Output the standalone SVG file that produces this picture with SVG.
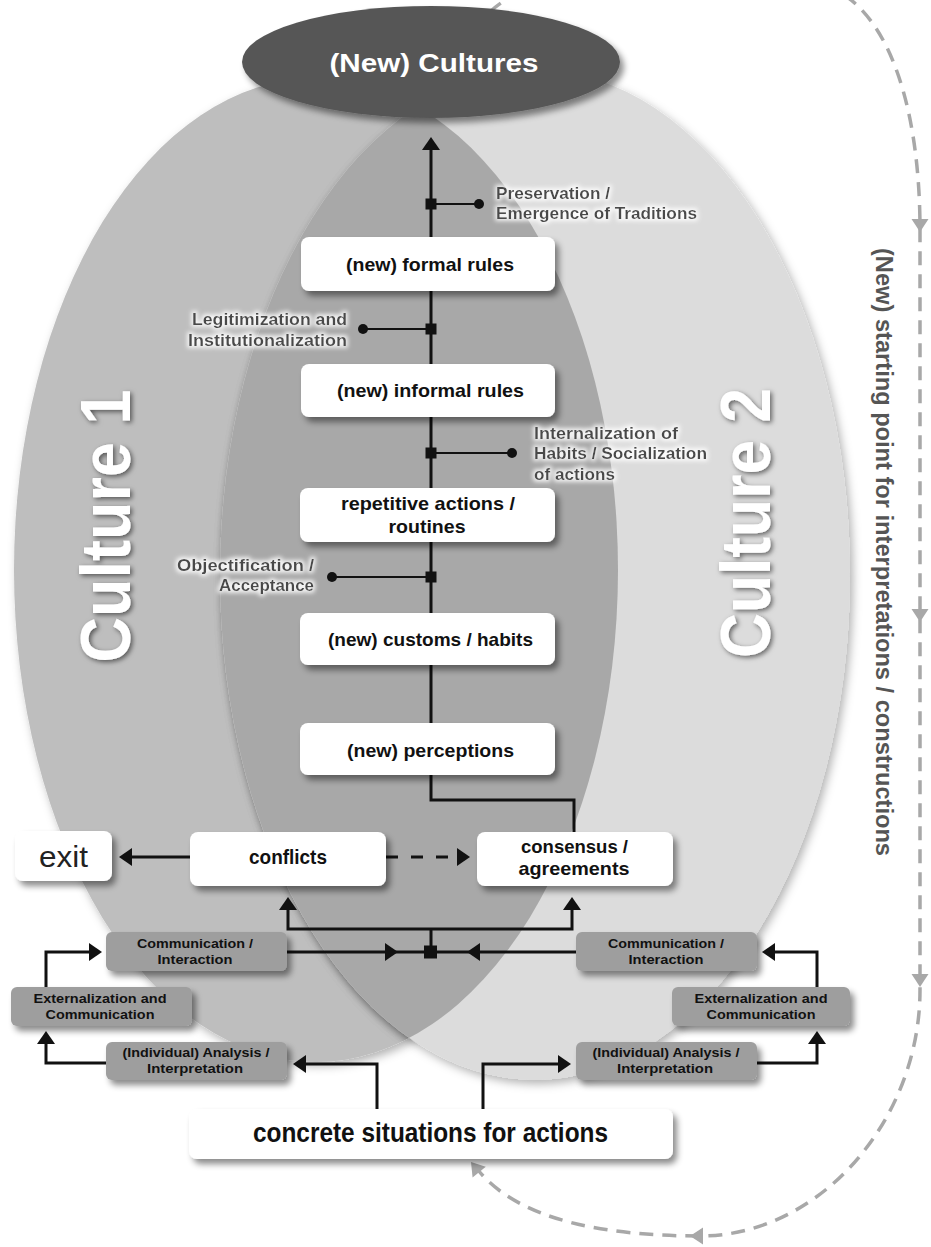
<svg xmlns="http://www.w3.org/2000/svg" width="931" height="1247" viewBox="0 0 931 1247">
<defs>
<style>
text{font-family:"Liberation Sans",Arial,sans-serif;}
.box{fill:#ffffff;}
.gbox{fill:#9e9e9e;}
.bl{font-size:19px;font-weight:700;fill:#111;text-anchor:middle;}
.bc{font-size:21px;font-weight:700;fill:#111;text-anchor:middle;}
.bc2{font-size:19px;font-weight:700;fill:#111;text-anchor:middle;}
.sl{font-size:13.5px;font-weight:700;fill:#111;text-anchor:middle;}
.an{font-size:17px;font-weight:700;fill:#4a4a4a;}
.ln{fill:none;stroke:#111;stroke-width:3;}
.thin{fill:none;stroke:#111;stroke-width:2.2;}
.dl{fill:none;stroke:#a8a8a8;stroke-width:3.5;stroke-dasharray:14 9;}
.cul{font-size:70px;font-weight:700;fill:#ffffff;text-anchor:middle;}
.blk{fill:#111;}
.gr{fill:#a8a8a8;}
</style>
<filter id="sh" x="-20%" y="-30%" width="150%" height="190%">
<feDropShadow dx="4" dy="5" stdDeviation="3" flood-color="#000" flood-opacity="0.45"/>
</filter>
<filter id="esh" x="-10%" y="-10%" width="125%" height="125%">
<feDropShadow dx="3" dy="4" stdDeviation="5" flood-color="#000" flood-opacity="0.3"/>
</filter>
<filter id="ts" x="-20%" y="-20%" width="140%" height="140%">
<feDropShadow dx="2" dy="2" stdDeviation="2.5" flood-color="#000" flood-opacity="0.55"/>
</filter>
<filter id="gl" x="-10%" y="-40%" width="120%" height="180%">
<feMorphology in="SourceAlpha" operator="dilate" radius="1.5" result="d"/>
<feGaussianBlur in="d" stdDeviation="2" result="b"/>
<feFlood flood-color="#ffffff" flood-opacity="0.85"/>
<feComposite in2="b" operator="in" result="g"/>
<feMerge><feMergeNode in="g"/><feMergeNode in="SourceGraphic"/></feMerge>
</filter>
<clipPath id="leftclip"><ellipse cx="316" cy="570" rx="302" ry="492"/></clipPath>
<path id="ah" d="M0,0 L-13,-9 L-13,9 Z"/>
<path id="gah" d="M0,0 L-13,-8.5 L-13,8.5 Z"/>
</defs>

<rect x="0" y="0" width="931" height="1247" fill="#ffffff"/>

<g id="culture-areas">
<ellipse id="culture1-area" cx="316" cy="570" rx="302" ry="492" fill="#bebebe" filter="url(#esh)"/>
<ellipse id="culture2-area" cx="535" cy="575" rx="315" ry="505" fill="#dcdcdc" filter="url(#esh)"/>
<g clip-path="url(#leftclip)">
<ellipse cx="535" cy="575" rx="315" ry="505" fill="#a8a8a8" filter="url(#esh)"/>
</g>
</g>

<g id="culture1-label" filter="url(#ts)">
<text class="cul" transform="translate(130,526) rotate(-90)" textLength="273" lengthAdjust="spacingAndGlyphs">Culture 1</text>
</g>
<g id="culture2-label" filter="url(#ts)">
<text class="cul" transform="translate(770,523) rotate(-90)" textLength="270" lengthAdjust="spacingAndGlyphs">Culture 2</text>
</g>

<g id="starting-point-label">
<text transform="translate(876,552) rotate(90)" text-anchor="middle" font-size="23" font-weight="700" fill="#555" textLength="608" lengthAdjust="spacingAndGlyphs">(New) starting point for interpretations / constructions</text>
</g>

<g id="connectors">
<path class="dl" d="M 490 12 C 545 -45, 795 -48, 851 0 C 895 35, 920 120, 920 230 L 920 990 C 920 1120, 820 1236, 700 1236 C 610 1236, 520 1222, 478 1170"/>
<use href="#gah" class="gr" transform="translate(920,232) rotate(90)"/>
<use href="#gah" class="gr" transform="translate(920,622) rotate(90)"/>
<use href="#gah" class="gr" transform="translate(920,987) rotate(90)"/>
<use href="#gah" class="gr" transform="translate(690,1236) rotate(180)"/>
<use href="#gah" class="gr" transform="translate(471,1162) rotate(-129)"/>

<path class="ln" d="M 574 832 V 800 H 431 V 145"/>
<use href="#ah" class="blk" transform="translate(431,137) rotate(-90)"/>

<path class="thin" d="M 431 204 H 479"/>
<rect class="blk" x="425.5" y="198.5" width="11" height="11"/>
<circle class="blk" cx="479" cy="204" r="5"/>
<path class="thin" d="M 431 329 H 363"/>
<rect class="blk" x="425.5" y="323.5" width="11" height="11"/>
<circle class="blk" cx="363" cy="329" r="5"/>
<path class="thin" d="M 431 453 H 512"/>
<rect class="blk" x="425.5" y="447.5" width="11" height="11"/>
<circle class="blk" cx="512" cy="453" r="5"/>
<path class="thin" d="M 431 577 H 332"/>
<rect class="blk" x="425.5" y="571.5" width="11" height="11"/>
<circle class="blk" cx="332" cy="577" r="5"/>

<path class="ln" d="M 190 857 H 126"/>
<use href="#ah" class="blk" transform="translate(119,857) rotate(180)"/>
<path class="ln" d="M 386 857 H 462" stroke-dasharray="12 13"/>
<use href="#ah" class="blk" transform="translate(470,857)"/>

<path class="ln" d="M 287 952 H 576"/>
<use href="#ah" class="blk" transform="translate(398,952)"/>
<use href="#ah" class="blk" transform="translate(467,952) rotate(180)"/>
<path class="ln" d="M 431 952 V 929"/>
<path class="ln" d="M 288 905 V 929 H 572 V 905"/>
<use href="#ah" class="blk" transform="translate(288,897) rotate(-90)"/>
<use href="#ah" class="blk" transform="translate(572,897) rotate(-90)"/>
<rect class="blk" x="424" y="945.5" width="13" height="13"/>

<path class="ln" d="M 106 1063 H 46 V 1039"/>
<use href="#ah" class="blk" transform="translate(46,1031) rotate(-90)"/>
<path class="ln" d="M 46 987 V 952 H 94"/>
<use href="#ah" class="blk" transform="translate(102,952)"/>

<path class="ln" d="M 377 1109 V 1064 H 300"/>
<use href="#ah" class="blk" transform="translate(293,1064) rotate(180)"/>
<path class="ln" d="M 483 1109 V 1064 H 563"/>
<use href="#ah" class="blk" transform="translate(571,1064)"/>

<path class="ln" d="M 757 1063 H 817 V 1039"/>
<use href="#ah" class="blk" transform="translate(817,1031) rotate(-90)"/>
<path class="ln" d="M 817 987 V 952 H 770"/>
<use href="#ah" class="blk" transform="translate(762,952) rotate(180)"/>
</g>

<g id="new-cultures">
<ellipse cx="431" cy="62" rx="189" ry="56" fill="#575757" filter="url(#sh)"/>
<text x="434" y="72" text-anchor="middle" font-size="26" font-weight="700" fill="#ffffff" textLength="209" lengthAdjust="spacingAndGlyphs">(New) Cultures</text>
</g>

<g id="ann-preservation" filter="url(#gl)">
<text class="an" x="496" y="199" textLength="114" lengthAdjust="spacingAndGlyphs">Preservation /</text>
<text class="an" x="496" y="219" textLength="201" lengthAdjust="spacingAndGlyphs">Emergence of Traditions</text>
</g>
<g id="ann-legitimization" filter="url(#gl)">
<text class="an" x="347" y="325" text-anchor="end" textLength="155" lengthAdjust="spacingAndGlyphs">Legitimization and</text>
<text class="an" x="347" y="346" text-anchor="end" textLength="159" lengthAdjust="spacingAndGlyphs">Institutionalization</text>
</g>
<g id="ann-internalization" filter="url(#gl)">
<text class="an" x="534" y="439" textLength="144" lengthAdjust="spacingAndGlyphs">Internalization of</text>
<text class="an" x="534" y="459" textLength="173" lengthAdjust="spacingAndGlyphs">Habits / Socialization</text>
<text class="an" x="534" y="480" textLength="81" lengthAdjust="spacingAndGlyphs">of actions</text>
</g>
<g id="ann-objectification" filter="url(#gl)">
<text class="an" x="314" y="571" text-anchor="end" textLength="137" lengthAdjust="spacingAndGlyphs">Objectification  /</text>
<text class="an" x="314" y="591" text-anchor="end" textLength="95" lengthAdjust="spacingAndGlyphs">Acceptance</text>
</g>

<g id="formal-rules">
<rect class="box" x="301" y="237" width="254" height="54" rx="8" filter="url(#sh)"/>
<text class="bl" x="430" y="271" textLength="168" lengthAdjust="spacingAndGlyphs">(new) formal rules</text>
</g>
<g id="informal-rules">
<rect class="box" x="301" y="364" width="254" height="53" rx="8" filter="url(#sh)"/>
<text class="bl" x="430.5" y="397" textLength="187" lengthAdjust="spacingAndGlyphs">(new) informal rules</text>
</g>
<g id="repetitive-actions">
<rect class="box" x="300" y="488" width="255" height="54" rx="8" filter="url(#sh)"/>
<text class="bl" x="428" y="510" textLength="174" lengthAdjust="spacingAndGlyphs">repetitive actions /</text>
<text class="bl" x="427" y="533" textLength="77" lengthAdjust="spacingAndGlyphs">routines</text>
</g>
<g id="customs-habits">
<rect class="box" x="300" y="613" width="255" height="52" rx="8" filter="url(#sh)"/>
<text class="bl" x="430.5" y="646" textLength="205" lengthAdjust="spacingAndGlyphs">(new) customs / habits</text>
</g>
<g id="perceptions">
<rect class="box" x="300" y="723" width="255" height="52" rx="8" filter="url(#sh)"/>
<text class="bl" x="430.5" y="757" textLength="167" lengthAdjust="spacingAndGlyphs">(new) perceptions</text>
</g>
<g id="exit">
<rect class="box" x="15" y="831" width="97" height="50" rx="8" filter="url(#sh)"/>
<text x="63.5" y="867" text-anchor="middle" font-size="30" font-weight="400" fill="#222" textLength="49" lengthAdjust="spacingAndGlyphs">exit</text>
</g>
<g id="conflicts">
<rect class="box" x="190" y="832" width="196" height="54" rx="8" filter="url(#sh)"/>
<text class="bc" x="288" y="864" textLength="78" lengthAdjust="spacingAndGlyphs">conflicts</text>
</g>
<g id="consensus">
<rect class="box" x="477" y="832" width="196" height="54" rx="8" filter="url(#sh)"/>
<text class="bc2" x="574.5" y="853" textLength="107" lengthAdjust="spacingAndGlyphs">consensus /</text>
<text class="bc2" x="574" y="875" textLength="111" lengthAdjust="spacingAndGlyphs">agreements</text>
</g>
<g id="comm-left">
<rect class="gbox" x="106" y="932" width="181" height="39" rx="6" filter="url(#sh)"/>
<text class="sl" x="195" y="948" textLength="116" lengthAdjust="spacingAndGlyphs">Communication /</text>
<text class="sl" x="195" y="964" textLength="75" lengthAdjust="spacingAndGlyphs">Interaction</text>
</g>
<g id="comm-right">
<rect class="gbox" x="576" y="932" width="181" height="39" rx="6" filter="url(#sh)"/>
<text class="sl" x="666" y="948" textLength="116" lengthAdjust="spacingAndGlyphs">Communication /</text>
<text class="sl" x="666" y="964" textLength="75" lengthAdjust="spacingAndGlyphs">Interaction</text>
</g>
<g id="ext-left">
<rect class="gbox" x="11" y="987" width="181" height="39" rx="6" filter="url(#sh)"/>
<text class="sl" x="100" y="1003" textLength="133" lengthAdjust="spacingAndGlyphs">Externalization and</text>
<text class="sl" x="100" y="1019" textLength="109" lengthAdjust="spacingAndGlyphs">Communication</text>
</g>
<g id="ext-right">
<rect class="gbox" x="672" y="987" width="178" height="39" rx="6" filter="url(#sh)"/>
<text class="sl" x="761" y="1003" textLength="133" lengthAdjust="spacingAndGlyphs">Externalization and</text>
<text class="sl" x="761" y="1019" textLength="109" lengthAdjust="spacingAndGlyphs">Communication</text>
</g>
<g id="analysis-left">
<rect class="gbox" x="106" y="1042" width="181" height="38" rx="6" filter="url(#sh)"/>
<text class="sl" x="196" y="1057" textLength="147" lengthAdjust="spacingAndGlyphs">(Individual) Analysis /</text>
<text class="sl" x="195" y="1073" textLength="96" lengthAdjust="spacingAndGlyphs">Interpretation</text>
</g>
<g id="analysis-right">
<rect class="gbox" x="576" y="1042" width="181" height="38" rx="6" filter="url(#sh)"/>
<text class="sl" x="666" y="1057" textLength="147" lengthAdjust="spacingAndGlyphs">(Individual) Analysis /</text>
<text class="sl" x="665" y="1073" textLength="96" lengthAdjust="spacingAndGlyphs">Interpretation</text>
</g>
<g id="concrete-situations">
<rect class="box" x="189" y="1109" width="484" height="50" rx="8" filter="url(#sh)"/>
<text x="430.5" y="1142" text-anchor="middle" font-size="28" font-weight="700" fill="#111" textLength="355" lengthAdjust="spacingAndGlyphs">concrete situations for actions</text>
</g>
</svg>
